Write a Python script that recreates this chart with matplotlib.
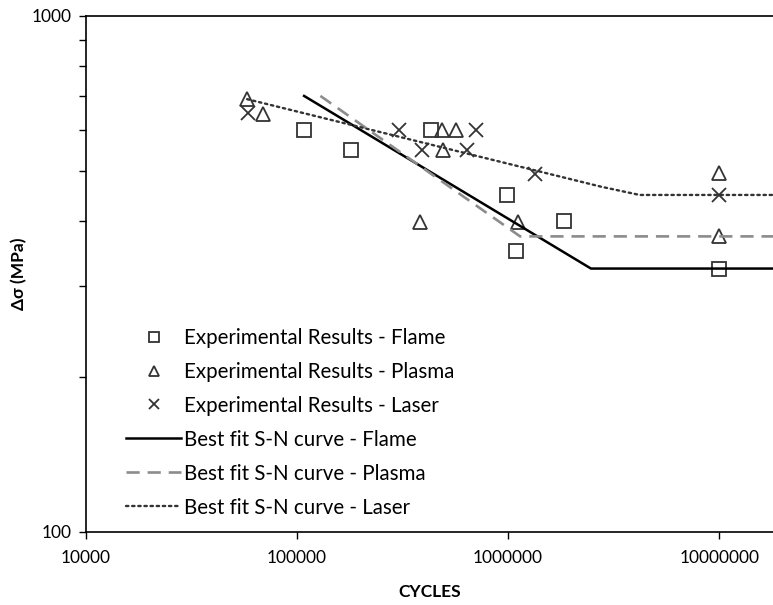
import matplotlib
matplotlib.use("Agg")
import matplotlib.pyplot as plt
from matplotlib.ticker import FixedLocator, NullFormatter, NullLocator, FixedFormatter

plt.rcParams['font.family'] = ['Lato', 'DejaVu Sans']

# Experimental data (cycles, stress range MPa)
flame_N = [1.08e5, 1.80e5, 4.3e5, 9.9e5, 1.09e6, 1.84e6, 1.0e7]
flame_S = [600, 550, 600, 450, 350, 400, 324]

plasma_N = [5.8e4, 6.9e4, 4.86e5, 5.68e5, 4.9e5, 3.83e5, 1.11e6, 1.0e7, 1.0e7]
plasma_S = [690, 645, 600, 600, 550, 398, 398, 496, 374]

laser_N = [5.87e4, 3.04e5, 7.05e5, 3.9e5, 6.4e5, 1.34e6, 1.0e7]
laser_S = [648, 600, 600, 550, 550, 494, 450]

# Best fit S-N curves
fit_flame_N = [1.08e5, 2.47e6, 1.8e7]
fit_flame_S = [700, 324, 324]

fit_plasma_N = [1.29e5, 1.14e6, 1.8e7]
fit_plasma_S = [700, 374, 374]

fit_laser_N = [5.8e4, 2.75e6, 4.2e6, 1.8e7]
fit_laser_S = [690, 467, 450, 450]

x_ticks = [1e4, 1e5, 1e6, 1e7]
x_tick_labels = ["10000", "100000", "1000000", "10000000"]
y_ticks = [100, 1000]
y_tick_labels = ["100", "1000"]

fig = plt.figure(figsize=(7.73, 6.05), dpi=100)
ax = fig.add_axes([86/773, (605-532)/605, 1 - 86/773, (532-16)/605])

mk = dict(linestyle='none', markerfacecolor='none', markeredgecolor='#333333', markersize=9.5, markeredgewidth=1.3)
ax.plot(flame_N, flame_S, marker='s', label='Experimental Results - Flame', **mk)
ax.plot(plasma_N, plasma_S, marker='^', label='Experimental Results - Plasma', **mk)
ax.plot(laser_N, laser_S, marker='x', label='Experimental Results - Laser', **mk)

ax.plot(fit_flame_N, fit_flame_S, color='black', lw=1.8, label='Best fit S-N curve - Flame')
ax.plot(fit_plasma_N, fit_plasma_S, color='#8c8c8c', lw=1.9, dashes=(5, 3), label='Best fit S-N curve - Plasma')
ax.plot(fit_laser_N, fit_laser_S, color='#333333', lw=1.7, linestyle=(0, (1, 1.6)), dash_capstyle='round', label='Best fit S-N curve - Laser')

ax.set_xscale('log')
ax.set_yscale('log')
ax.set_xlim(1e4, 1.8e7)
ax.set_ylim(100, 1000)

ax.xaxis.set_major_locator(FixedLocator(x_ticks))
ax.xaxis.set_major_formatter(FixedFormatter(x_tick_labels))
ax.xaxis.set_minor_locator(NullLocator())
ax.yaxis.set_major_locator(FixedLocator(y_ticks))
ax.yaxis.set_major_formatter(FixedFormatter(y_tick_labels))
ax.yaxis.set_minor_locator(FixedLocator([200, 300, 400, 500, 600, 700, 800, 900]))
ax.yaxis.set_minor_formatter(NullFormatter())

ax.tick_params(axis='both', which='both', direction='out', length=5, width=1.0, labelsize=12.5, colors='black')
ax.tick_params(axis='x', pad=8)
ax.tick_params(axis='y', pad=5)

ax.spines['right'].set_visible(False)
for s in ['left', 'bottom', 'top']:
    ax.spines[s].set_linewidth(1.2)

ax.set_xlabel('CYCLES', fontsize=12.5, fontweight='bold', labelpad=13)
ax.set_ylabel('Δσ (MPa)', fontsize=12.5, fontweight='bold')
ax.yaxis.label.set_va('center')
ax.yaxis.set_label_coords(-0.098, 0.5)

leg = ax.legend(loc='lower left', bbox_to_anchor=(0.037, 0.0), frameon=False, fontsize=14.8,
                markerscale=0.75, handlelength=2.7, handletextpad=0.15, labelspacing=0.68,
                borderaxespad=0.3)

fig.savefig('out.png', dpi=100)
